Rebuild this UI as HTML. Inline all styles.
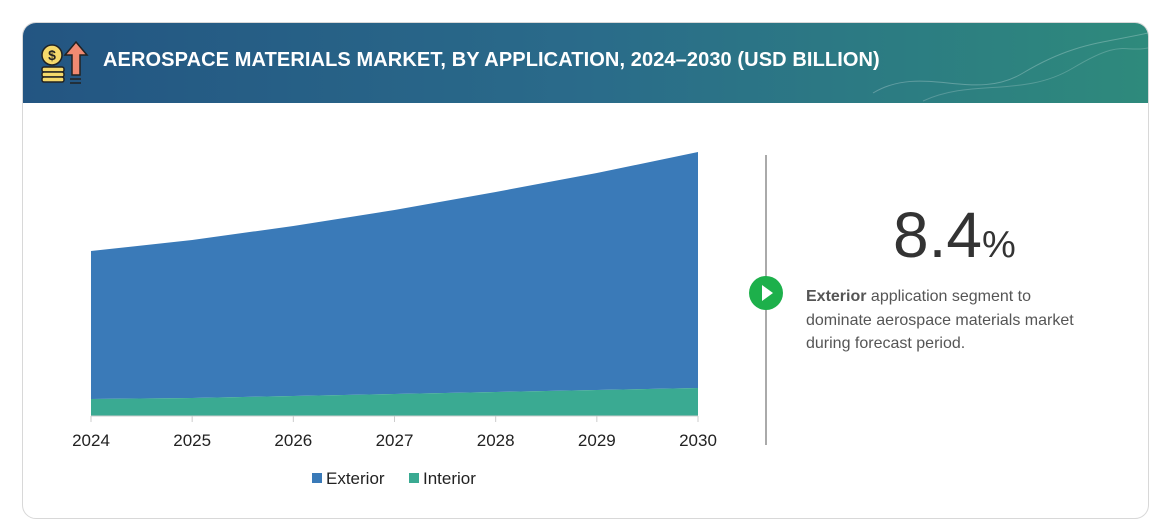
<!DOCTYPE html>
<html><head><meta charset="utf-8"><style>
body{margin:0;width:1170px;height:520px;background:#fff;font-family:"Liberation Sans",sans-serif;position:relative;overflow:hidden}
.card{position:absolute;left:22px;top:22px;width:1125px;height:495px;border:1px solid #d8d8d8;border-radius:14px;overflow:hidden;background:#fff}
.hdr{position:absolute;left:0;top:0;width:100%;height:80px;background:linear-gradient(90deg,#235582 0%,#2a6b8a 50%,#2e8a7c 100%)}
.title{position:absolute;left:80px;top:26px;color:#fff;font-weight:bold;font-size:20px;letter-spacing:0.1px}
.pct{position:absolute;left:893px;top:198px;font-size:64px;color:#333}
.pct span{font-size:38px}
.desc{position:absolute;left:806px;top:285px;width:285px;font-size:16px;line-height:23.5px;color:#555}
</style></head><body>
<div class="card">
<div class="hdr">
<svg width="1125" height="80" style="position:absolute;left:0;top:0">
<path d="M850 70 C900 40 950 80 1000 50 S1080 20 1125 10" stroke="rgba(255,255,255,0.25)" fill="none"/>
<path d="M900 78 C950 55 1000 75 1050 45 S1100 30 1125 25" stroke="rgba(255,255,255,0.2)" fill="none"/>
</svg>
<svg width="50" height="50" style="position:absolute;left:16px;top:16px">
<rect x="3" y="28" width="22" height="5" rx="2" fill="#f5d96b" stroke="#222" stroke-width="1.5"/>
<rect x="3" y="33" width="22" height="5" rx="2" fill="#f5d96b" stroke="#222" stroke-width="1.5"/>
<rect x="3" y="38" width="22" height="5" rx="2" fill="#f5d96b" stroke="#222" stroke-width="1.5"/>
<circle cx="13" cy="16" r="10" fill="#f5d96b" stroke="#222" stroke-width="1.5"/>
<text x="13" y="21" font-size="14" text-anchor="middle" fill="#222" font-weight="bold">$</text>
<path d="M37 3 L48 16 L41 16 L41 36 L33 36 L33 16 L26 16 Z" fill="#f08a72" stroke="#222" stroke-width="1.5"/>
<line x1="31" y1="40" x2="42" y2="40" stroke="#222" stroke-width="1.5"/><line x1="31" y1="44" x2="42" y2="44" stroke="#222" stroke-width="1.5"/>
</svg>
<div class="title">AEROSPACE MATERIALS MARKET, BY APPLICATION, 2024–2030 (USD BILLION)</div>
</div>
</div>
<svg id="chart" width="1170" height="520" style="position:absolute;left:0;top:0"></svg>
<div style="position:absolute;left:765px;top:155px;width:2px;height:290px;background:#aaa"></div>
<svg width="36" height="36" style="position:absolute;left:748px;top:275px"><circle cx="18" cy="18" r="17" fill="#1db04b"/><path d="M14 10 L25 18 L14 26 Z" fill="#fff"/></svg>
<div class="pct">8.4<span>%</span></div>
<div class="desc"><b>Exterior</b> application segment to dominate aerospace materials market during forecast period.</div>
<script>
const years=["2024","2025","2026","2027","2028","2029","2030"];
const interior=[1.7,1.8,2.0,2.2,2.4,2.6,2.8];
const exterior=[14.8,15.8,17.0,18.4,20.0,21.7,23.6];
const NS="http://www.w3.org/2000/svg";
const svg=document.getElementById('chart');
const x0=91,x1=698,yb=416,pxPer=10;
const xs=i=>x0+i*(x1-x0)/(years.length-1);
const ys=v=>yb-v*pxPer;
function mk(t,a){const e=document.createElementNS(NS,t);for(const k in a)e.setAttribute(k,a[k]);svg.appendChild(e);return e;}
let top1=interior.map((v,i)=>[xs(i),ys(v)]);
let top2=exterior.map((v,i)=>[xs(i),ys(v+interior[i])]);
let dE="M"+top2.map(p=>p.join(",")).join(" L")+" L"+top1.slice().reverse().map(p=>p.join(",")).join(" L")+"Z";
const pe=mk('path',{d:dE,fill:'#3a7ab8'});


let dI="M"+top1.map(p=>p.join(",")).join(" L")+` L${x1},${yb} L${x0},${yb}Z`;
const pi=mk('path',{d:dI,fill:'#3aaa92'});


const ax=mk('line',{x1:x0,x2:x1,y1:yb,y2:yb,stroke:'#ccc'});


years.forEach((y,i)=>{
 const tk=mk('line',{x1:xs(i),x2:xs(i),y1:yb,y2:yb+6,stroke:'#ccc'});
 
 
 const t=mk('text',{x:xs(i),y:446,'text-anchor':'middle','font-size':17,fill:'#222'});
 t.textContent=y;
 
 
});
[["Exterior","#3a7ab8",312],["Interior","#3aaa92",409]].forEach(l=>{
 const r=mk('rect',{x:l[2],y:473,width:10,height:10,fill:l[1]});
 
 
 const t=mk('text',{x:l[2]+14,y:484,'font-size':17,fill:'#222'});
 t.textContent=l[0];
 
 
});
</script>
</body></html>
